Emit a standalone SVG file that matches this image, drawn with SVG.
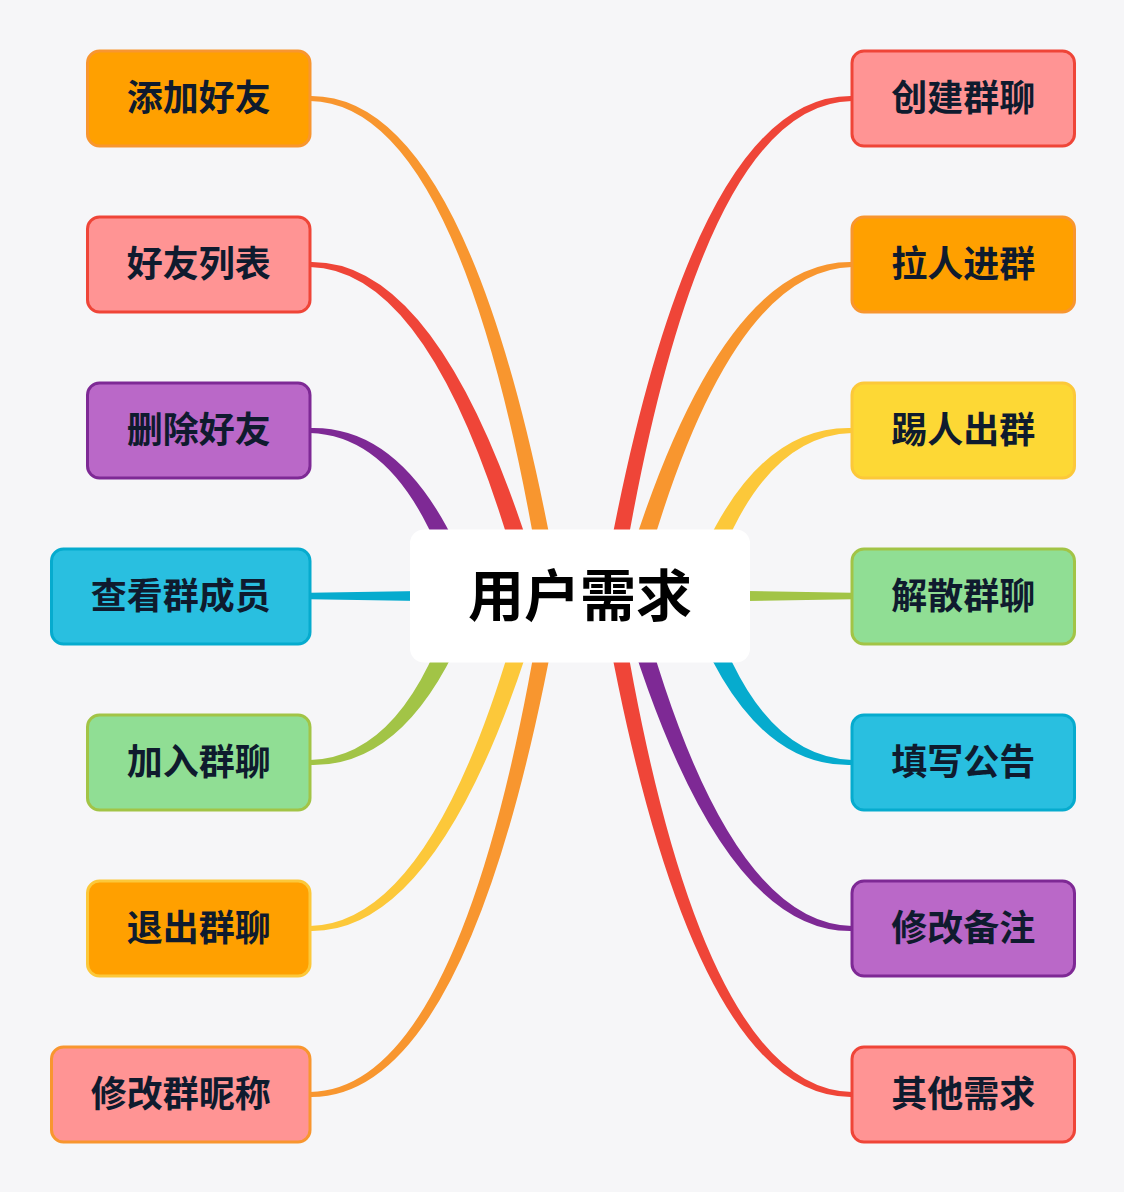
<svg xmlns="http://www.w3.org/2000/svg" width="1124" height="1192" viewBox="0 0 1124 1192">
  <style>
    .bg { fill: #F6F6F8; }
    .node rect { stroke-width: 3; }
    .label { font-family: "Noto Sans CJK SC", "Noto Sans", sans-serif; font-weight: 700; font-size: 36px; fill: #0F1B2E; text-anchor: middle; }
    .root-label { font-family: "Noto Sans CJK SC", "Noto Sans", sans-serif; font-weight: 700; font-size: 56px; fill: #000000; text-anchor: middle; }
    .c-orange { fill: #F8962F; }
    .c-red { fill: #EF4538; }
    .c-purple { fill: #7E2995; }
    .c-blue { fill: #06ABCE; }
    .c-green { fill: #A2C446; }
    .c-yellow { fill: #FCC83A; }
    .f-orange { fill: #FFA000; }
    .f-pink { fill: #FF9494; }
    .f-purple { fill: #BA68C8; }
    .f-blue { fill: #29BFE0; }
    .f-green { fill: #90DE94; }
    .f-yellow { fill: #FDD835; }
    .s-orange { stroke: #F8962F; }
    .s-red { stroke: #EF4538; }
    .s-purple { stroke: #7E2995; }
    .s-blue { stroke: #06ABCE; }
    .s-green { stroke: #A2C446; }
    .s-yellow { stroke: #FCC83A; }
  </style>
  <rect class="bg" x="0" y="0" width="1124" height="1192"/>

  <g id="connectors">
    <!-- top-left -->
    <path class="c-orange" d="M 560.4,595.1 Q 473,93.7 310,96 L 310,101 Q 465,103.3 543.6,597.9 Z"/>
    <path class="c-red" d="M 543.2,594 Q 446,259.25 310,262 L 310,267 Q 438,269.75 524.8,599 Z"/>
    <path class="c-purple" d="M 476,593.2 Q 415,425 310,428 L 310,433 Q 407,436 456,599.8 Z"/>
    <!-- horizontal -->
    <path class="c-blue" d="M 310,592.7 L 500,589.7 L 500,602.3 L 310,599.3 Z"/>
    <path class="c-green" d="M 852,592.7 L 662,589.7 L 662,602.3 L 852,599.3 Z"/>
    <!-- bottom-left -->
    <path class="c-green" transform="matrix(1,0,0,-1,0,1193)" d="M 476,593.2 Q 415,425 310,428 L 310,433 Q 407,436 456,599.8 Z"/>
    <path class="c-yellow" transform="matrix(1,0,0,-1,0,1193)" d="M 543.2,594 Q 446,259.25 310,262 L 310,267 Q 438,269.75 524.8,599 Z"/>
    <path class="c-orange" transform="matrix(1,0,0,-1,0,1193)" d="M 560.4,595.1 Q 473,93.7 310,96 L 310,101 Q 465,103.3 543.6,597.9 Z"/>
    <!-- top-right -->
    <path class="c-red" transform="matrix(-1,0,0,1,1162,0)" d="M 560.4,595.1 Q 473,93.7 310,96 L 310,101 Q 465,103.3 543.6,597.9 Z"/>
    <path class="c-orange" transform="matrix(-1,0,0,1,1162,0)" d="M 543.2,594 Q 446,259.25 310,262 L 310,267 Q 438,269.75 524.8,599 Z"/>
    <path class="c-yellow" transform="matrix(-1,0,0,1,1162,0)" d="M 476,593.2 Q 415,425 310,428 L 310,433 Q 407,436 456,599.8 Z"/>
    <!-- bottom-right -->
    <path class="c-blue" transform="matrix(-1,0,0,-1,1162,1193)" d="M 476,593.2 Q 415,425 310,428 L 310,433 Q 407,436 456,599.8 Z"/>
    <path class="c-purple" transform="matrix(-1,0,0,-1,1162,1193)" d="M 543.2,594 Q 446,259.25 310,262 L 310,267 Q 438,269.75 524.8,599 Z"/>
    <path class="c-red" transform="matrix(-1,0,0,-1,1162,1193)" d="M 560.4,595.1 Q 473,93.7 310,96 L 310,101 Q 465,103.3 543.6,597.9 Z"/>
  </g>

  <!-- left nodes -->
  <g id="node-tianjiahaoyou" class="node">
    <rect class="f-orange s-orange" x="87.5" y="51" width="222.5" height="95" rx="12"/>
    <text class="label" x="198.75" y="111">添加好友</text>
  </g>
  <g id="node-haoyouliebiao" class="node">
    <rect class="f-pink s-red" x="87.5" y="217" width="222.5" height="95" rx="12"/>
    <text class="label" x="198.75" y="277">好友列表</text>
  </g>
  <g id="node-shanchuhaoyou" class="node">
    <rect class="f-purple s-purple" x="87.5" y="383" width="222.5" height="95" rx="12"/>
    <text class="label" x="198.75" y="443">删除好友</text>
  </g>
  <g id="node-chakanqunchengyuan" class="node">
    <rect class="f-blue s-blue" x="51.5" y="549" width="258.5" height="95" rx="12"/>
    <text class="label" x="180.75" y="609">查看群成员</text>
  </g>
  <g id="node-jiaruqunliao" class="node">
    <rect class="f-green s-green" x="87.5" y="715" width="222.5" height="95" rx="12"/>
    <text class="label" x="198.75" y="775">加入群聊</text>
  </g>
  <g id="node-tuichuqunliao" class="node">
    <rect class="f-orange s-yellow" x="87.5" y="881" width="222.5" height="95" rx="12"/>
    <text class="label" x="198.75" y="941">退出群聊</text>
  </g>
  <g id="node-xiugaiqunnicheng" class="node">
    <rect class="f-pink s-orange" x="51.5" y="1047" width="258.5" height="95" rx="12"/>
    <text class="label" x="180.75" y="1107">修改群昵称</text>
  </g>

  <!-- right nodes -->
  <g id="node-chuangjianqunliao" class="node">
    <rect class="f-pink s-red" x="852" y="51" width="222.5" height="95" rx="12"/>
    <text class="label" x="963.25" y="111">创建群聊</text>
  </g>
  <g id="node-larenjinqun" class="node">
    <rect class="f-orange s-orange" x="852" y="217" width="222.5" height="95" rx="12"/>
    <text class="label" x="963.25" y="277">拉人进群</text>
  </g>
  <g id="node-tirenchuqun" class="node">
    <rect class="f-yellow s-yellow" x="852" y="383" width="222.5" height="95" rx="12"/>
    <text class="label" x="963.25" y="443">踢人出群</text>
  </g>
  <g id="node-jiesanqunliao" class="node">
    <rect class="f-green s-green" x="852" y="549" width="222.5" height="95" rx="12"/>
    <text class="label" x="963.25" y="609">解散群聊</text>
  </g>
  <g id="node-tianxiegonggao" class="node">
    <rect class="f-blue s-blue" x="852" y="715" width="222.5" height="95" rx="12"/>
    <text class="label" x="963.25" y="775">填写公告</text>
  </g>
  <g id="node-xiugaibeizhu" class="node">
    <rect class="f-purple s-purple" x="852" y="881" width="222.5" height="95" rx="12"/>
    <text class="label" x="963.25" y="941">修改备注</text>
  </g>
  <g id="node-qitaxuqiu" class="node">
    <rect class="f-pink s-red" x="852" y="1047" width="222.5" height="95" rx="12"/>
    <text class="label" x="963.25" y="1107">其他需求</text>
  </g>

  <!-- root -->
  <g id="node-root">
    <rect x="410" y="529.5" width="340" height="133" rx="14" fill="#FFFFFF"/>
    <text class="root-label" x="580" y="616">用户需求</text>
  </g>
</svg>
